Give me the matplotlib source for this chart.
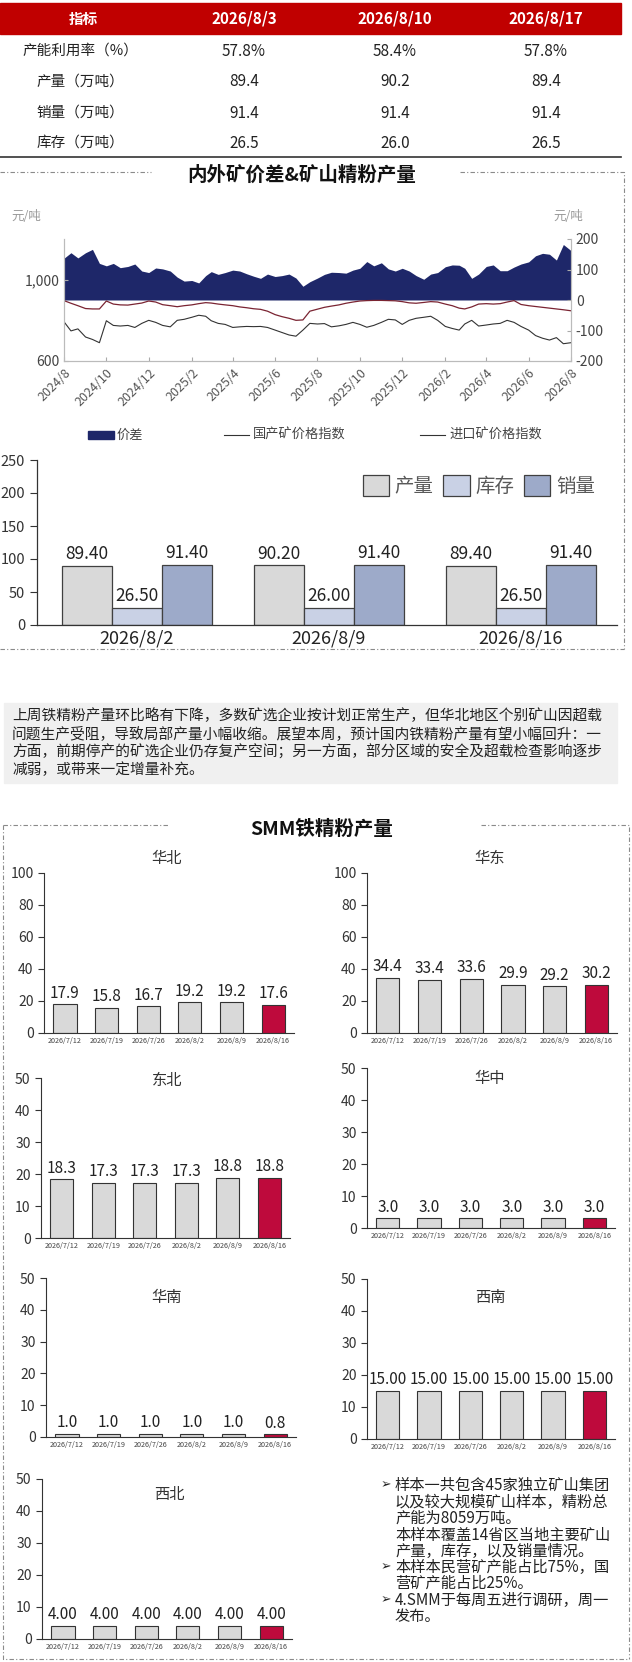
import numpy as np
import pandas as pd
import matplotlib
matplotlib.use('Agg')
import matplotlib.pyplot as plt
from matplotlib.patches import Rectangle

plt.rcParams['font.family'] = ['Noto Sans CJK SC', 'DejaVu Sans']
plt.rcParams['axes.unicode_minus'] = False
plt.rcParams['axes.facecolor'] = 'none'

# ---------------- data ----------------
table_dates = ['2026/8/3', '2026/8/10', '2026/8/17']
utilization = [57.8, 58.4, 57.8]
production = [89.4, 90.2, 89.4]
sales = [91.4, 91.4, 91.4]
inventory = [26.5, 26.0, 26.5]

week_labels = ['2026/8/2', '2026/8/9', '2026/8/16']

# price series, one reading every ~10 days from 2024/8/1 to 2026/8/1
spread = [137, 155, 138, 155, 166, 120, 112, 120, 106, 110, 118, 95,
          90, 105, 102, 95, 75, 62, 64, 56, 80, 93, 84, 90,
          98, 95, 86, 78, 71, 85, 77, 80, 85, 72, 45, 60,
          72, 84, 91, 90, 88, 98, 104, 126, 112, 122, 102, 95,
          104, 95, 80, 68, 85, 90, 109, 115, 114, 104, 71, 85,
          110, 115, 96, 96, 108, 118, 125, 145, 153, 150, 131, 182, 162]
domestic = [897, 884, 872, 858, 856, 856, 895, 880, 876, 875, 880, 885,
            895, 890, 877, 872, 867, 872, 876, 882, 887, 885, 880, 876,
            872, 866, 862, 857, 854, 845, 828, 818, 810, 800, 802, 845,
            855, 864, 870, 876, 884, 890, 895, 897, 898, 898, 897, 896,
            892, 886, 884, 888, 892, 890, 880, 872, 860, 856, 866, 880,
            882, 880, 882, 890, 897, 878, 872, 868, 864, 860, 856, 852, 847]
imported = [793, 748, 758, 718, 706, 690, 798, 775, 772, 775, 765, 785,
            800, 790, 775, 768, 800, 805, 815, 825, 820, 798, 785, 780,
            765, 768, 770, 769, 770, 765, 752, 740, 728, 722, 752, 785,
            782, 784, 768, 773, 780, 790, 780, 766, 775, 790, 805, 802,
            780, 800, 810, 815, 820, 800, 770, 760, 752, 782, 800, 772,
            777, 782, 785, 800, 790, 770, 752, 725, 712, 703, 715, 685, 690]

region_dates = ['2026/7/12', '2026/7/19', '2026/7/26', '2026/8/2', '2026/8/9', '2026/8/16']
huabei = [17.9, 15.8, 16.7, 19.2, 19.2, 17.6]
huadong = [34.4, 33.4, 33.6, 29.9, 29.2, 30.2]
dongbei = [18.3, 17.3, 17.3, 17.3, 18.8, 18.8]
huazhong = [3.0, 3.0, 3.0, 3.0, 3.0, 3.0]
huanan = [1.0, 1.0, 1.0, 1.0, 1.0, 0.8]
xinan = [15.0, 15.0, 15.0, 15.0, 15.0, 15.0]
xibei = [4.0, 4.0, 4.0, 4.0, 4.0, 4.0]

dates = [pd.Timestamp(2024 + (7 + i // 3) // 12, (7 + i // 3) % 12 + 1, 1 + 10 * (i % 3))
         for i in range(len(spread))]

# ---------------- figure ----------------
W, H = 632, 1662
fig = plt.figure(figsize=(W / 100, H / 100), dpi=100)


def rect(x0, y0, x1, y1):
    return [x0 / W, 1 - y1 / H, (x1 - x0) / W, (y1 - y0) / H]


bg = fig.add_axes([0, 0, 1, 1], zorder=-1)
bg.set_xlim(0, W)
bg.set_ylim(H, 0)
bg.axis('off')

# ---- table ----
bg.add_patch(Rectangle((0, 3), 621, 31, color='#C00000'))
col_x = [83, 244, 395, 546]
bg.text(col_x[0], 19, '指标', color='white', fontsize=10.5, fontweight='bold', ha='center', va='center')
for x, d in zip(col_x[1:], table_dates):
    bg.text(x, 19, d, color='white', fontsize=11, fontweight='bold', ha='center', va='center')
rows = [('产能利用率（%）', ['%.1f%%' % v for v in utilization]),
        ('产量（万吨）', ['%.1f' % v for v in production]),
        ('销量（万吨）', ['%.1f' % v for v in sales]),
        ('库存（万吨）', ['%.1f' % v for v in inventory])]
for y, (lab, vals) in zip([51, 82, 113, 143], rows):
    bg.text(80, y, lab, fontsize=10.5, ha='center', va='center', color='#222')
    for x, v in zip(col_x[1:], vals):
        bg.text(x, y, v, fontsize=11, ha='center', va='center', color='#222')
bg.plot([0, 621], [157, 157], color='#333', lw=1.2)

# ---- dash-dot frames ----
dd = dict(color='#8a8a8a', lw=0.8, dashes=(4, 2, 1, 2))
bg.plot([0, 151], [172, 172], **dd)
bg.plot([460, 624, 624], [172, 172, 649], **dd)
bg.plot([0, 624], [649, 649], **dd)
bg.plot([3, 169], [825, 825], **dd)
bg.plot([481, 629, 629], [825, 825, 1659], **dd)
bg.plot([3, 3, 629], [825, 1659, 1659], **dd)

bg.text(302, 175, '内外矿价差&矿山精粉产量', fontsize=14, fontweight='bold', ha='center', va='center', color='#111')
bg.text(322, 829, 'SMM铁精粉产量', fontsize=14, fontweight='bold', ha='center', va='center', color='#111')

# ---- price spread chart ----
ax = fig.add_axes(rect(64, 239, 571, 361))
ax.fill_between(dates, 0, spread, color='#1E2769', lw=0)
ax.set_ylim(-200, 200)
ax.set_yticks([-200, -100, 0, 100, 200])
ax2 = ax.twinx()
ax.yaxis.tick_right()
ax2.yaxis.tick_left()
ax2.plot(dates, domestic, color='#7A2432', lw=0.9)
ax2.plot(dates, imported, color='#333333', lw=0.8)
ax2.set_ylim(600, 1200)
ax2.set_yticks([600, 1000])
ax2.set_yticklabels(['600', '1,000'])
ax.set_xlim(dates[0], dates[-1])
ticks = [pd.Timestamp(2024 + (7 + k) // 12, (7 + k) % 12 + 1, 1) for k in range(0, 25, 2)]
ax.set_xticks(ticks)
ax.set_xticklabels(['%d/%d' % (t.year, t.month) for t in ticks], rotation=45, ha='right',
                   rotation_mode='anchor', fontsize=9, color='#555')
for a in (ax, ax2):
    a.tick_params(direction='in', length=3, color='#aaa', labelcolor='#444', labelsize=10)
    a.spines['top'].set_visible(False)
    for s in ('left', 'right', 'bottom'):
        a.spines[s].set_color('#bbb')
        a.spines[s].set_linewidth(0.8)
ax.tick_params(axis='x', pad=4, labelsize=9, labelcolor='#555')
bg.text(26, 216, '元/吨', fontsize=9, style='italic', color='#999', ha='center', va='center')
bg.text(568, 216, '元/吨', fontsize=9, style='italic', color='#999', ha='center', va='center')
bg.add_patch(Rectangle((88, 431), 26, 8, color='#1E2769'))
bg.text(117, 435, '价差', fontsize=9.5, va='center', color='#444')
bg.plot([224, 249], [435, 435], color='#333', lw=0.8)
bg.text(253, 435, '国产矿价格指数', fontsize=9.5, va='center', color='#444')
bg.plot([420, 445], [435, 435], color='#333', lw=0.8)
bg.text(449, 435, '进口矿价格指数', fontsize=9.5, va='center', color='#444')

# ---- weekly bars ----
axb = fig.add_axes(rect(37, 460, 617, 625))
xb = np.arange(len(week_labels))
w = 0.26
ec = dict(edgecolor='#404040', linewidth=0.9)
b1 = axb.bar(xb - w, production, w, color='#D9D9D9', label='产量', **ec)
b2 = axb.bar(xb, inventory, w, color='#C9D1E5', label='库存', **ec)
b3 = axb.bar(xb + w, sales, w, color='#9DAAC9', label='销量', **ec)
for b in (b1, b2, b3):
    axb.bar_label(b, fmt='%.2f', padding=2, fontsize=12.5, color='#222')
axb.set_ylim(0, 250)
axb.set_yticks(range(0, 251, 50))
axb.set_xlim(-0.52, 2.5)
axb.set_xticks(xb)
axb.set_xticklabels(week_labels, fontsize=13, color='#222')
axb.tick_params(axis='x', length=0, pad=3)
axb.tick_params(axis='y', labelsize=10.5, labelcolor='#333', length=5, color='#333')
for s in ('top', 'right'):
    axb.spines[s].set_visible(False)
for s in ('left', 'bottom'):
    axb.spines[s].set_color('#333')
    axb.spines[s].set_linewidth(0.9)
axb.legend(loc='center right', bbox_to_anchor=(605 / W, 1 - 486 / H), bbox_transform=fig.transFigure,
           ncol=3, frameon=False, fontsize=14, handlelength=1.35, handleheight=1.25,
           handletextpad=0.3, columnspacing=0.5, borderpad=0, labelcolor='#595959')

# ---- commentary box ----
bg.add_patch(Rectangle((4, 703), 613, 80, color='#F0F0F0'))
comment = ['上周铁精粉产量环比略有下降，多数矿选企业按计划正常生产，但华北地区个别矿山因超载',
           '问题生产受阻，导致局部产量小幅收缩。展望本周，预计国内铁精粉产量有望小幅回升：一',
           '方面，前期停产的矿选企业仍存复产空间；另一方面，部分区域的安全及超载检查影响逐步',
           '减弱，或带来一定增量补充。']
for y, line in zip([716, 734, 752, 770], comment):
    bg.text(12, y, line, fontsize=10.6, va='center', color='#222')

# ---- regional bars ----
regions = [
    ('华北', huabei, (44, 873, 294, 1033), 100, 20, '%.1f', (167, 858)),
    ('华东', huadong, (367, 873, 617, 1033), 100, 20, '%.1f', (490, 858)),
    ('东北', dongbei, (41, 1078, 290, 1238), 50, 10, '%.1f', (167, 1080)),
    ('华中', huazhong, (367, 1068, 615, 1228), 50, 10, '%.1f', (490, 1078)),
    ('华南', huanan, (46, 1278, 296, 1437), 50, 10, '%.1f', (167, 1297)),
    ('西南', xinan, (367, 1279, 615, 1439), 50, 10, '%.2f', (490, 1297)),
    ('西北', xibei, (42, 1479, 292, 1639), 50, 10, '%.2f', (169, 1494)),
]
bar_colors = ['#D9D9D9'] * 5 + ['#BE0A3C']
for name, vals, box, ymax, step, fmt, tpos in regions:
    a = fig.add_axes(rect(*box))
    xr = np.arange(len(region_dates))
    bars = a.bar(xr, vals, 0.56, color=bar_colors, edgecolor='#333', linewidth=0.8)
    a.bar_label(bars, fmt=fmt, padding=2, fontsize=11, color='#222')
    a.set_ylim(0, ymax)
    a.set_yticks(range(0, ymax + 1, step))
    a.set_xlim(-0.5, 5.5)
    a.set_xticks(xr)
    a.set_xticklabels(region_dates, fontsize=5.2, color='#444')
    a.tick_params(axis='x', length=0, pad=3)
    a.tick_params(axis='y', labelsize=10, labelcolor='#333', length=4, color='#333')
    for s in ('top', 'right'):
        a.spines[s].set_visible(False)
    for s in ('left', 'bottom'):
        a.spines[s].set_color('#333')
        a.spines[s].set_linewidth(0.8)
    bg.text(tpos[0], tpos[1], name, fontsize=11, ha='center', va='center', color='#333')

# ---- notes ----
notes = [(True, '样本一共包含45家独立矿山集团'),
         (False, '以及较大规模矿山样本，精粉总'),
         (False, '产能为8059万吨。'),
         (False, '本样本覆盖14省区当地主要矿山'),
         (False, '产量，库存，以及销量情况。'),
         (True, '本样本民营矿产能占比75%，国'),
         (False, '营矿产能占比25%。'),
         (True, '4.SMM于每周五进行调研，周一'),
         (False, '发布。')]
for y, (bullet, line) in zip([1485, 1502, 1518, 1535, 1551, 1567, 1583, 1600, 1617], notes):
    if bullet:
        bg.text(381, y, '➢', family=['DejaVu Sans'], fontsize=9, va='center', color='#222')
    bg.text(395, y, line, fontsize=11, va='center', color='#222')

fig.savefig('out.png', dpi=100)
